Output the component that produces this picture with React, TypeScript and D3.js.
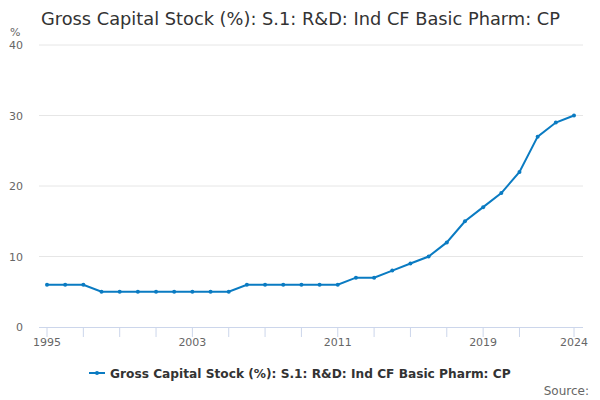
import React from 'react'
import * as d3 from 'd3'

const years = d3.range(1995, 2025)
const values = [6, 6, 6, 5, 5, 5, 5, 5, 5, 5, 5, 6, 6, 6, 6, 6, 6, 7, 7, 8, 9, 10, 12, 15, 17, 19, 22, 27, 29, 30]
const yTicks = [0, 10, 20, 30, 40]
const xTicks = [1995, 1997, 1999, 2001, 2003, 2005, 2007, 2009, 2011, 2013, 2015, 2017, 2019, 2021, 2024]
const xLabels = [1995, 2003, 2011, 2019, 2024]

const title = 'Gross Capital Stock (%): S.1: R&D: Ind CF Basic Pharm: CP'
const color = '#0a7bc2'
const font = '"DejaVu Sans", sans-serif'

const App = () => {
  const width = 600
  const height = 400
  const margin = { top: 45, right: 17, bottom: 73, left: 39 }

  const x = d3.scaleLinear().domain([1995, 2024]).range([47, 574])
  const y = d3.scaleLinear().domain([0, 40]).range([height - margin.bottom, margin.top])

  const line = d3
    .line<number>()
    .x((_, i) => x(years[i]))
    .y(d => y(d))

  const plotRight = width - margin.right
  const baseY = y(0)

  return (
    <svg
      width={width}
      height={height}
      style={{ position: 'absolute', left: 0, top: 0, fontFamily: font, background: '#fff' }}
    >
      <text x={41} y={25} fontSize={17.8} fill='#333'>
        {title}
      </text>
      <text x={10} y={36} fontSize={11} fill='#666'>
        %
      </text>

      {/* gridlines + y labels */}
      {yTicks.map(t => (
        <g key={t}>
          {t > 0 && (
            <line x1={margin.left} x2={plotRight} y1={y(t)} y2={y(t)} stroke='#e6e6e6' strokeWidth={1} />
          )}
          <text x={23} y={y(t) + 4} fontSize={11} fill='#666' textAnchor='end'>
            {t}
          </text>
        </g>
      ))}

      {/* x axis */}
      <line x1={margin.left} x2={plotRight} y1={baseY + 0.5} y2={baseY + 0.5} stroke='#ccd6eb' />
      {xTicks.map(t => (
        <line key={t} x1={x(t)} x2={x(t)} y1={baseY} y2={baseY + 10} stroke='#ccd6eb' />
      ))}
      {xLabels.map(t => (
        <text key={t} x={x(t)} y={baseY + 19} fontSize={11} fill='#666' textAnchor='middle'>
          {t}
        </text>
      ))}

      {/* series */}
      <path d={line(values) ?? ''} fill='none' stroke={color} strokeWidth={2} />
      {values.map((v, i) => (
        <circle key={years[i]} cx={x(years[i])} cy={y(v)} r={2} fill={color} />
      ))}

      {/* legend */}
      <g transform='translate(89, 373)'>
        <line x1={0} x2={16} y1={0} y2={0} stroke={color} strokeWidth={2} />
        <circle cx={8} cy={0} r={2} fill={color} />
        <text x={21} y={4.5} fontSize={12.2} fontWeight='bold' fill='#333'>
          {title}
        </text>
      </g>

      <text x={589} y={395} fontSize={12} fill='#666' textAnchor='end'>
        Source:
      </text>
    </svg>
  )
}

export default App
